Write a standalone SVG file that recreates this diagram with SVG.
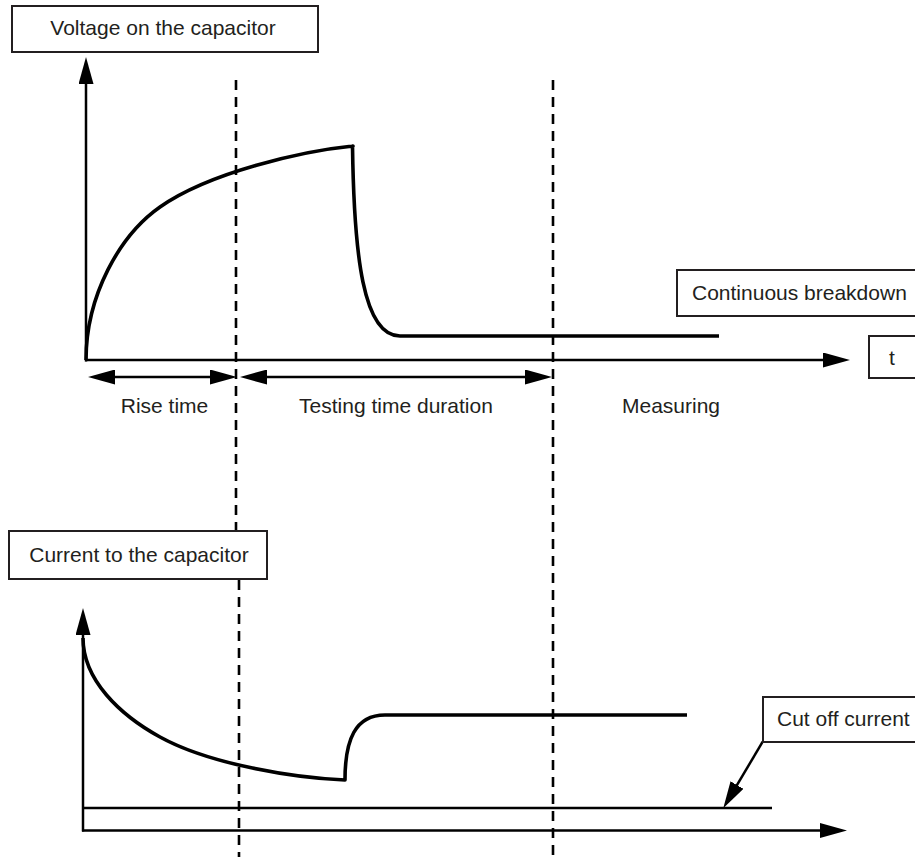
<svg xmlns="http://www.w3.org/2000/svg" width="915" height="857" viewBox="0 0 915 857">
<style>
  .box { fill: #fff; stroke: #231f20; stroke-width: 2; }
  .lbl { font-family: "Liberation Sans", Arial, sans-serif; font-size: 21px; fill: #231f20; }
  .mid { text-anchor: middle; }
  .axis { stroke: #000; stroke-width: 2.5; fill: none; }
  .curve { stroke: #000; stroke-width: 3.6; fill: none; stroke-linejoin: round; }
  .dash { stroke: #000; stroke-width: 2.6; stroke-dasharray: 10 7; fill: none; }
</style>
<defs>
  <marker id="arr" markerUnits="userSpaceOnUse" markerWidth="28" markerHeight="15" refX="1" refY="7.5" orient="auto-start-reverse">
    <path d="M0,0 L27,7.5 L0,15 Z" fill="#000"/>
  </marker>
</defs>
<rect width="915" height="857" fill="#fff"/>

<g id="guides">
  <line class="dash" x1="236" y1="80" x2="236" y2="531"/>
  <line class="dash" x1="239" y1="580" x2="239" y2="857"/>
  <line class="dash" x1="553" y1="80" x2="553" y2="857"/>
</g>

<g id="connectors">
  <line class="axis" x1="86" y1="361.5" x2="86" y2="83" marker-end="url(#arr)"/>
  <line class="axis" x1="85" y1="360" x2="824" y2="360" marker-end="url(#arr)"/>
  <line class="axis" x1="114" y1="377" x2="211" y2="377" marker-start="url(#arr)" marker-end="url(#arr)"/>
  <line class="axis" x1="266" y1="377" x2="526" y2="377" marker-start="url(#arr)" marker-end="url(#arr)"/>
  <line class="axis" x1="83" y1="831.5" x2="83" y2="634" marker-end="url(#arr)"/>
  <line class="axis" x1="82" y1="830.5" x2="821" y2="830.5" marker-end="url(#arr)"/>
  <line class="axis" x1="82" y1="808" x2="772" y2="808"/>
  <line class="axis" x1="762.7" y1="741.7" x2="736.5" y2="785.9" marker-end="url(#arr)"/>
</g>

<g id="voltage-curve">
  <path class="curve" d="M86,360 C86,295 120,235 160,207 C210,172 303,151 353,146 L352.5,146 C354,255 363,336 400,336 L719,336"/>
</g>

<g id="current-curve">
  <path class="curve" d="M83,638 C83,680 120,715 160,737 C210,764.5 295,778 345,780 C345,740 355,715 385,715 L687,715"/>
</g>

<g id="voltage-title">
  <rect class="box" x="12" y="6" width="306" height="46"/>
  <text class="lbl mid" x="163" y="35">Voltage on the capacitor</text>
</g>

<g id="current-title">
  <rect class="box" x="9" y="531" width="258" height="48"/>
  <text class="lbl mid" x="139" y="562">Current to the capacitor</text>
</g>

<g id="continuous-breakdown">
  <rect class="box" x="677" y="270" width="250" height="46"/>
  <text class="lbl" x="692" y="300">Continuous breakdown</text>
</g>

<g id="t-label">
  <rect class="box" x="869" y="336" width="60" height="42"/>
  <text class="lbl mid" x="892" y="365">t</text>
</g>

<g id="cut-off-current">
  <rect class="box" x="763" y="697" width="170" height="45"/>
  <text class="lbl" x="777" y="726">Cut off current</text>
</g>

<g id="phase-labels">
  <text class="lbl mid" x="164.5" y="413">Rise time</text>
  <text class="lbl mid" x="396" y="413">Testing time duration</text>
  <text class="lbl mid" x="671" y="413">Measuring</text>
</g>
</svg>
